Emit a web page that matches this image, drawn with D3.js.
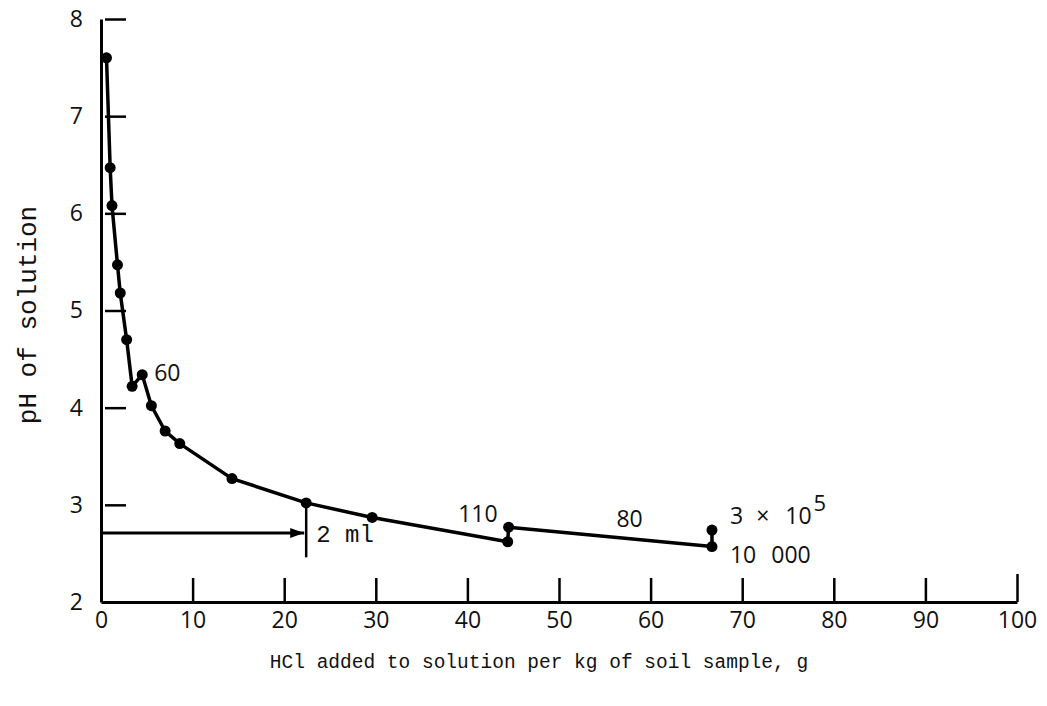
<!DOCTYPE html>
<html>
<head>
<meta charset="utf-8">
<script src="https://cdn.jsdelivr.net/npm/d3@7"></script>
<style>
  html, body { margin: 0; padding: 0; background: #fff; }
  svg { display: block; }
</style>
</head>
<body>
<div id="chart"></div>
<script>
// Titration curve: pH of soil solution versus HCl added
const hclAdded = [0.6, 1.0, 1.2, 1.8, 2.1, 2.8, 3.4, 4.5, 5.5, 7.0, 8.6, 14.3, 22.4, 29.6, 44.4, 44.5, 66.7, 66.7];
const phValues = [7.60, 6.47, 6.08, 5.47, 5.18, 4.70, 4.22, 4.34, 4.02, 3.76, 3.63, 3.27, 3.02, 2.87, 2.62, 2.77, 2.57, 2.74];

const xTicks = [0, 10, 20, 30, 40, 50, 60, 70, 80, 90, 100];
const yTicks = [2, 3, 4, 5, 6, 7, 8];

// Annotation values
const reference2ml = { x: 22.4, ph: 2.71, top: 3.02, bottom: 2.46 };
const labelSixty = { i: 7, text: "60" };
const labelOneTen = { i: 15, text: "110" };
const labelEighty = { x: 57.7, ph: 2.77, text: "80" };
const labelUpper = { i: 17 };
const labelLower = { i: 16 };

const W = 1047, H = 706;
const svg = d3.select("#chart").append("svg").attr("width", W).attr("height", H);

const x = d3.scaleLinear().domain([0, 100]).range([101, 1017]);
const y = d3.scaleLinear().domain([2, 8]).range([602, 19]);

const sansFont = "'Open Sans', 'DejaVu Sans', sans-serif";
const monoFont = "'Liberation Mono', 'Courier New', monospace";

// X axis (ticks point up into the plot)
const gx = svg.append("g").attr("transform", `translate(0,${y(2)})`)
  .call(d3.axisBottom(x).tickValues(xTicks).tickFormat(d3.format("d"))
    .tickSizeInner(-24).tickSizeOuter(0).tickPadding(10));
gx.select(".domain").attr("stroke", "#000").attr("stroke-width", 3);
gx.selectAll(".tick line").attr("stroke", "#000").attr("stroke-width", 2.5);
gx.selectAll(".tick text").attr("font-family", sansFont).attr("font-size", 23).attr("fill", "#111");
gx.selectAll(".tick").filter(d => d === 0).select("line").remove();
gx.selectAll(".tick").filter(d => d === 100).select("line").attr("y2", -28);

// Y axis (ticks point right into the plot)
const gy = svg.append("g").attr("transform", `translate(${x(0)},0)`)
  .call(d3.axisLeft(y).tickValues(yTicks).tickFormat(d3.format("d"))
    .tickSizeInner(-25).tickSizeOuter(0).tickPadding(18));
gy.select(".domain").attr("stroke", "#000").attr("stroke-width", 3);
gy.selectAll(".tick line").attr("stroke", "#000").attr("stroke-width", 2.5).attr("x1", 4);
gy.selectAll(".tick text").attr("font-family", sansFont).attr("font-size", 23).attr("fill", "#111");
gy.selectAll(".tick").filter(d => d === 2).select("line").remove();

// Axis titles
svg.append("text")
  .attr("x", (x(0) + x(100)) / 2 - 20).attr("y", 668)
  .attr("text-anchor", "middle")
  .attr("font-family", monoFont).attr("font-size", 19.5).attr("fill", "#111")
  .text("HCl added to solution per kg of soil sample, g");

svg.append("text")
  .attr("transform", `translate(36,${315}) rotate(-90)`)
  .attr("text-anchor", "middle")
  .attr("font-family", monoFont).attr("font-size", 26).attr("fill", "#111")
  .text("pH of solution");

// Curve
const pts = hclAdded.map((v, i) => [v, phValues[i]]);
const line = d3.line().x(d => x(d[0])).y(d => y(d[1])).curve(d3.curveLinear);
svg.append("path").datum(pts)
  .attr("d", line).attr("fill", "none").attr("stroke", "#000")
  .attr("stroke-width", 3.5).attr("stroke-linejoin", "round");

svg.append("g").selectAll("circle").data(pts).join("circle")
  .attr("cx", d => x(d[0])).attr("cy", d => y(d[1])).attr("r", 5.5).attr("fill", "#000");

// 2 ml reference arrow
svg.append("defs").append("marker")
  .attr("id", "arrowhead").attr("viewBox", "0 0 14 10")
  .attr("refX", 14).attr("refY", 5)
  .attr("markerWidth", 14).attr("markerHeight", 10)
  .attr("markerUnits", "userSpaceOnUse").attr("orient", "auto")
  .append("path").attr("d", "M0,0 L14,5 L0,10 Z").attr("fill", "#000");

svg.append("line")
  .attr("x1", x(0)).attr("x2", x(reference2ml.x) - 2)
  .attr("y1", y(reference2ml.ph)).attr("y2", y(reference2ml.ph))
  .attr("stroke", "#000").attr("stroke-width", 3).attr("marker-end", "url(#arrowhead)");

svg.append("line")
  .attr("x1", x(reference2ml.x)).attr("x2", x(reference2ml.x))
  .attr("y1", y(reference2ml.top)).attr("y2", y(reference2ml.bottom))
  .attr("stroke", "#000").attr("stroke-width", 2.5);

svg.append("text")
  .attr("x", x(reference2ml.x) + 10).attr("y", y(reference2ml.ph) + 9)
  .attr("font-family", monoFont).attr("font-size", 24).attr("fill", "#111")
  .text("2 ml");

// Numeric annotations along the curve
const ann = svg.append("g").attr("font-family", sansFont).attr("font-size", 23).attr("fill", "#111");

ann.append("text")
  .attr("x", x(hclAdded[labelSixty.i]) + 12).attr("y", y(phValues[labelSixty.i]) + 6)
  .text(labelSixty.text);

ann.append("text")
  .attr("x", x(hclAdded[labelOneTen.i]) - 11).attr("y", y(phValues[labelOneTen.i]) - 5)
  .attr("text-anchor", "end")
  .text(labelOneTen.text);

ann.append("text")
  .attr("x", x(labelEighty.x)).attr("y", y(labelEighty.ph))
  .attr("text-anchor", "middle")
  .text(labelEighty.text);

const up = ann.append("text")
  .attr("x", x(hclAdded[labelUpper.i]) + 18).attr("y", y(phValues[labelUpper.i]) - 6);
up.append("tspan").text("3");
up.append("tspan").attr("dx", 13).text("×");
up.append("tspan").attr("dx", 16).text("10");
up.append("tspan").attr("dx", 2).attr("dy", -13).attr("font-size", 22).text("5");

const low = ann.append("text")
  .attr("x", x(hclAdded[labelLower.i]) + 18).attr("y", y(phValues[labelLower.i]) + 16);
low.append("tspan").text("10");
low.append("tspan").attr("dx", 15).text("000");
</script>
</body>
</html>
